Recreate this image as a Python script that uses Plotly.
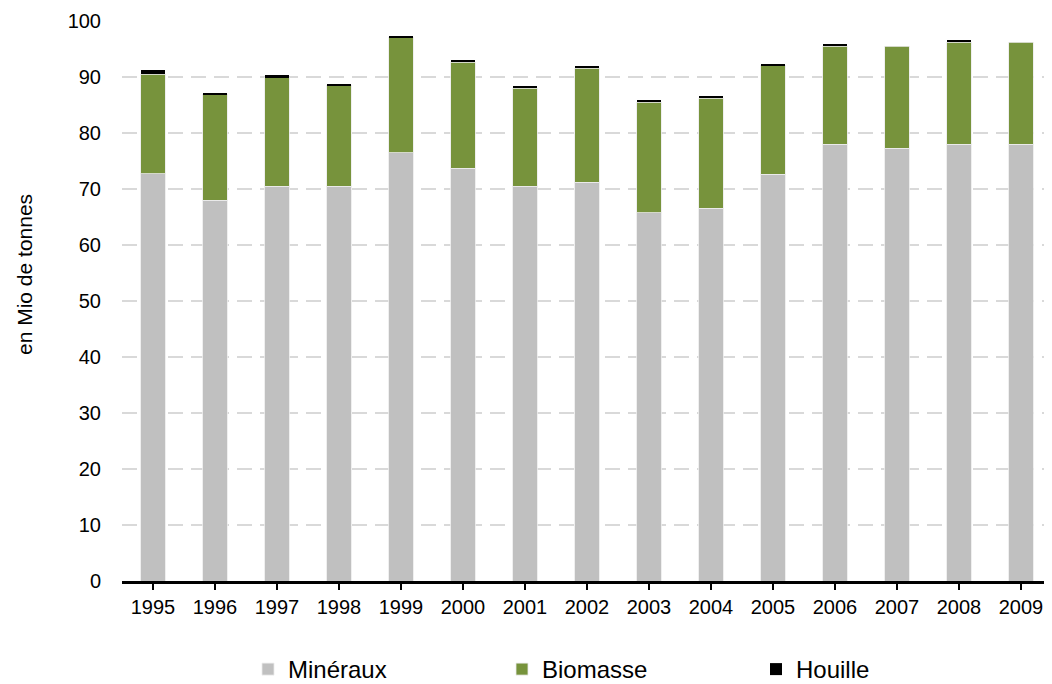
import plotly.graph_objects as go

years = ["1995", "1996", "1997", "1998", "1999", "2000", "2001", "2002",
         "2003", "2004", "2005", "2006", "2007", "2008", "2009"]
mineraux = [72.7, 68.0, 70.5, 70.5, 76.5, 73.7, 70.5, 71.2, 65.8, 66.6, 72.6, 78.0, 77.3, 78.0, 78.0]
biomasse = [17.8, 18.8, 19.4, 18.0, 20.5, 18.9, 17.5, 20.4, 19.7, 19.6, 19.4, 17.5, 18.2, 18.2, 18.2]
houille = [0.7, 0.3, 0.4, 0.3, 0.3, 0.4, 0.4, 0.4, 0.4, 0.4, 0.4, 0.4, 0.0, 0.4, 0.0]
y_ticks = [0, 10, 20, 30, 40, 50, 60, 70, 80, 90, 100]

W, H = 1044, 684  # page body has an 8px margin
L, T, PW, PH = 114, 13, 930, 560

fig = go.Figure()
for name, vals, col, lw in [("Minéraux", mineraux, "#c0c0c0", 1),
                            ("Biomasse", biomasse, "#77933c", 1),
                            ("Houille", houille, "#000000", 0)]:
    fig.add_trace(go.Bar(x=years, y=vals, name=name,
                         marker=dict(color=col, line=dict(color="rgba(235,235,235,0.8)", width=lw))))

fig.update_layout(
    barmode="stack",
    bargap=0.6,
    width=W, height=H,
    margin=dict(l=L, r=W - L - PW, t=T, b=H - T - PH, autoexpand=False),
    paper_bgcolor="white", plot_bgcolor="white",
    font=dict(family="Liberation Sans, Arial, sans-serif", size=20, color="#000"),
    showlegend=True,
    legend=dict(orientation="h", xref="container", yref="container",
                x=240 / W, xanchor="left", y=0, yanchor="bottom",
                font=dict(size=24), entrywidth=209, itemwidth=30,
                traceorder="normal"),
    xaxis=dict(showline=True, linecolor="#000", linewidth=3, ticks="outside",
               ticklen=6, tickwidth=2, tickcolor="#000", range=[-0.5, 14.5],
               tickfont=dict(size=20), automargin=False),
    yaxis=dict(range=[0, 100], tickvals=y_ticks, showgrid=True, gridcolor="#d9d9d9",
               griddash="15px,8px", gridwidth=2, showline=False, zeroline=False,
               ticks="", tickfont=dict(size=20), ticklabelstandoff=20, automargin=False),
    annotations=[dict(text="en Mio de tonnes", xref="paper", yref="paper",
                      x=(16 - L) / PW, y=(573 - 267) / PH, textangle=-90,
                      showarrow=False, font=dict(size=21), xanchor="center", yanchor="middle")],
)

fig.write_html("out.html")
